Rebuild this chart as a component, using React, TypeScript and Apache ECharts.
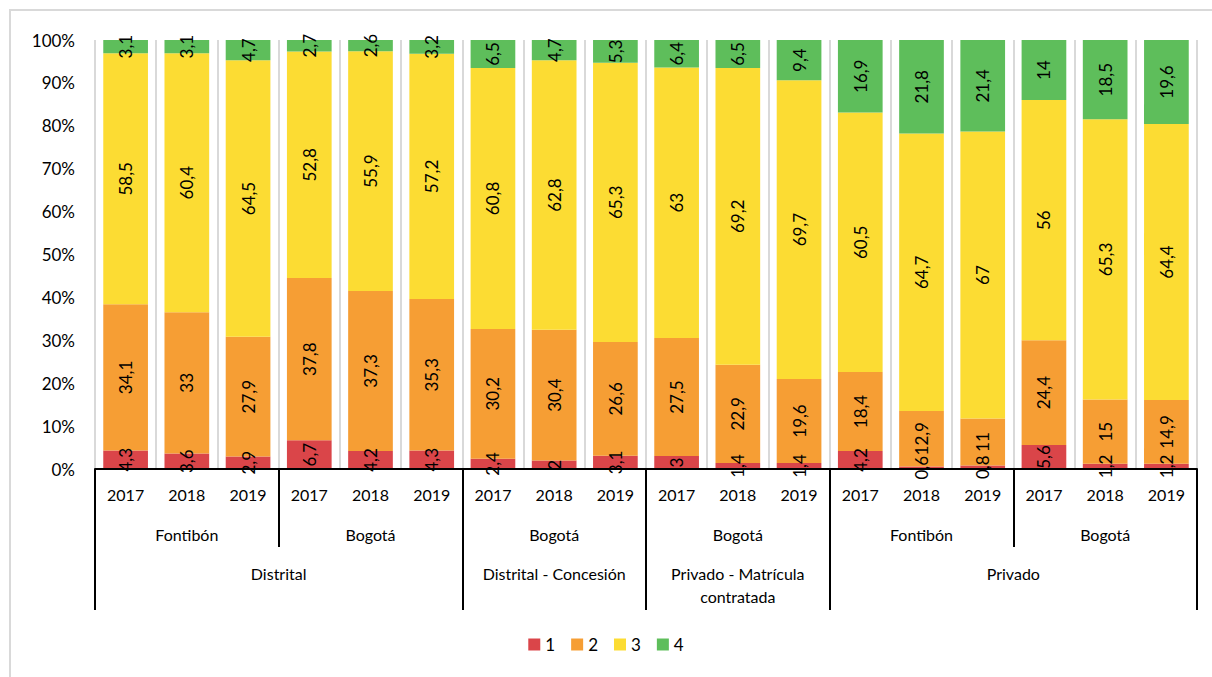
import React, { useEffect, useRef } from "react";
import * as echarts from "echarts";

const years = ["2017", "2018", "2019", "2017", "2018", "2019", "2017", "2018", "2019", "2017", "2018", "2019", "2017", "2018", "2019", "2017", "2018", "2019"];
const level2Labels = ["Fontibón", "Bogotá", "Bogotá", "Bogotá", "Fontibón", "Bogotá"];
const level3Labels = ["Distrital", "Distrital - Concesión", "Privado - Matrícula\ncontratada", "Privado"];
const level3Spans = [6, 3, 3, 6];
const level2Spans = [3, 3, 3, 3, 3, 3];

const seriesNames = ["1", "2", "3", "4"];
const s1 = [4.3, 3.6, 2.9, 6.7, 4.2, 4.3, 2.4, 2, 3.1, 3, 1.4, 1.4, 4.2, 0.6, 0.8, 5.6, 1.2, 1.2];
const s2 = [34.1, 33, 27.9, 37.8, 37.3, 35.3, 30.2, 30.4, 26.6, 27.5, 22.9, 19.6, 18.4, 12.9, 11, 24.4, 15, 14.9];
const s3 = [58.5, 60.4, 64.5, 52.8, 55.9, 57.2, 60.8, 62.8, 65.3, 63, 69.2, 69.7, 60.5, 64.7, 67, 56, 65.3, 64.4];
const s4 = [3.1, 3.1, 4.7, 2.7, 2.6, 3.2, 6.5, 4.7, 5.3, 6.4, 6.5, 9.4, 16.9, 21.8, 21.4, 14, 18.5, 19.6];
const colors = ["#DA4549", "#F69E34", "#FCDC33", "#5EBE5B"];
const yTicks = [0, 10, 20, 30, 40, 50, 60, 70, 80, 90, 100];

const FONT = "Lato, 'Noto Sans', sans-serif";

function boundaries(spans: number[]) {
  const b = [0];
  spans.forEach((s) => b.push(b[b.length - 1] + s));
  return b;
}
function centers(spans: number[]) {
  const b = boundaries(spans);
  return spans.map((s, i) => b[i] + s / 2);
}

export default function App() {
  const ref = useRef<HTMLDivElement>(null);
  useEffect(() => {
    document.body.style.margin = "0";
    const chart = echarts.init(ref.current!, null, { renderer: "svg" });
    const all = [s1, s2, s3, s4];
    const totals = years.map((_, i) => all.reduce((a, s) => a + s[i], 0));
    const l2c = centers(level2Spans);
    const l3c = centers(level3Spans);
    const l3b = boundaries(level3Spans);
    const l2b = boundaries(level2Spans);
    const option: any = {
      animation: false,
      textStyle: { fontFamily: FONT },
      graphic: [
        {
          type: "rect",
          shape: { x: 10, y: 10, width: 1230, height: 700 },
          style: { fill: "none", stroke: "#d9d9d9", lineWidth: 2 },
          silent: true,
        },
      ],
      legend: {
        data: seriesNames,
        top: 631,
        left: "center",
        icon: "rect",
        itemWidth: 12,
        itemHeight: 12,
        itemGap: 16,
        textStyle: { fontSize: 17, color: "#000", fontFamily: FONT },
      },
      grid: { left: 95, right: 15, top: 40, bottom: 208, containLabel: false },
      xAxis: [
        {
          type: "category",
          data: years,
          position: "bottom",
          axisLine: { show: true, lineStyle: { color: "#000", width: 2 } },
          axisTick: { show: false },
          splitLine: { show: true, lineStyle: { color: "#d9d9d9", width: 2 } },
          axisLabel: { fontSize: 16, color: "#000", margin: 17, interval: 0, fontFamily: FONT },
          z: 5,
        },
        {
          type: "value",
          min: 0,
          max: 18,
          position: "bottom",
          axisLine: { show: false },
          splitLine: { show: false },
          axisTick: {
            show: true,
            inside: false,
            length: 78,
            customValues: l2b,
            lineStyle: { color: "#000", width: 2 },
          },
          axisLabel: {
            show: true,
            customValues: l2c,
            margin: 57,
            fontSize: 16,
            color: "#000",
            fontFamily: FONT,
            formatter: (v: number) => {
              const i = l2c.findIndex((c) => Math.abs(c - v) < 1e-6);
              return i >= 0 ? level2Labels[i] : "";
            },
          },
        },
        {
          type: "value",
          min: 0,
          max: 18,
          position: "bottom",
          axisLine: { show: false },
          splitLine: { show: false },
          axisTick: {
            show: true,
            inside: false,
            length: 141,
            customValues: l3b,
            lineStyle: { color: "#000", width: 2 },
          },
          axisLabel: {
            show: true,
            customValues: l3c,
            margin: 93,
            fontSize: 16,
            lineHeight: 23,
            color: "#000",
            fontFamily: FONT,
            formatter: (v: number) => {
              const i = l3c.findIndex((c) => Math.abs(c - v) < 1e-6);
              return i >= 0 ? level3Labels[i] : "";
            },
          },
        },
      ],
      yAxis: {
        type: "value",
        min: 0,
        max: 100,
        interval: 10,
        axisLine: { show: false },
        axisTick: { show: false },
        splitLine: { show: false },
        axisLabel: {
          fontSize: 17,
          color: "#000",
          margin: 20,
          fontFamily: FONT,
          customValues: yTicks,
          formatter: (v: number) => `${v}%`,
        },
      },
      series: all.map((s, si) => ({
        name: seriesNames[si],
        type: "bar",
        stack: "total",
        xAxisIndex: 0,
        barCategoryGap: "27%",
        itemStyle: { color: colors[si] },
        label: {
          show: true,
          position: "inside",
          rotate: 90,
          fontSize: 17,
          color: "#000",
          fontFamily: FONT,
          formatter: (p: any) => String(s[p.dataIndex]).replace(".", ","),
        },
        data: s.map((v, i) => (v / totals[i]) * 100),
      })),
    };
    chart.setOption(option);
    return () => chart.dispose();
  }, []);
  return <div ref={ref} style={{ width: 1212, height: 677 }} />;
}
